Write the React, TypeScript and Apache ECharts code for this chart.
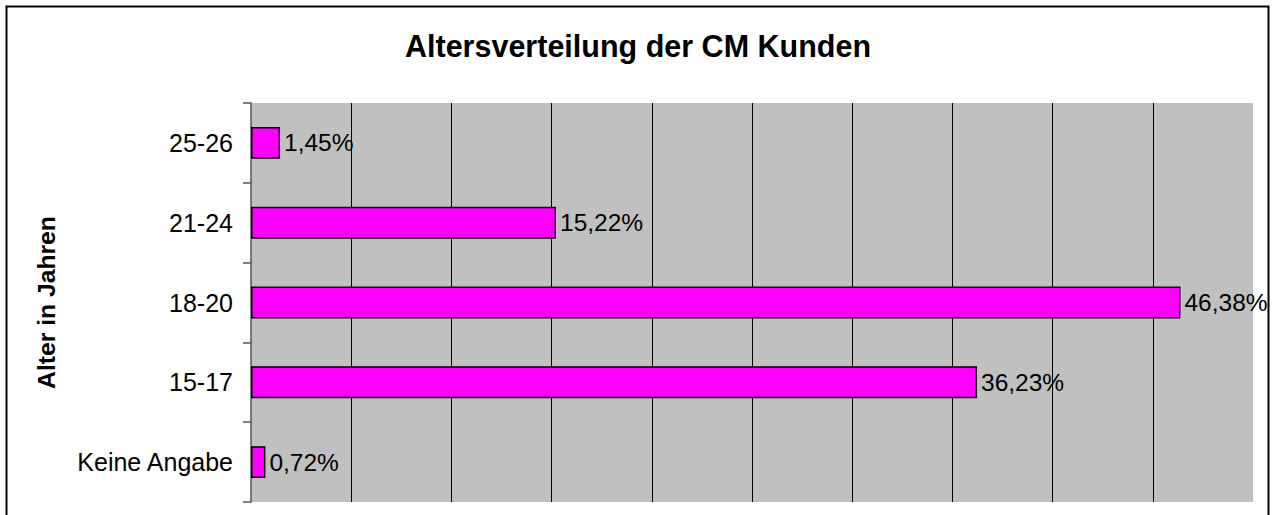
import React, { useEffect, useRef } from "react";
import * as echarts from "echarts";

const categories = ["Keine Angabe", "15-17", "18-20", "21-24", "25-26"];
const values = [0.72, 36.23, 46.38, 15.22, 1.45];
const titleText = "Altersverteilung der CM Kunden";
const yAxisTitle = "Alter in Jahren";

const FONT = "Liberation Sans, Arial, Helvetica, sans-serif";

export default function App() {
  const ref = useRef<HTMLDivElement>(null);
  useEffect(() => {
    document.body.style.margin = "0";
    const chart = echarts.init(ref.current!, null, { renderer: "svg" });
    chart.setOption({
      animation: false,
      backgroundColor: "#ffffff",
      title: {
        text: titleText,
        left: "center",
        top: 25,
        textStyle: { fontFamily: FONT, fontSize: 30.5, fontWeight: "bold", color: "#000" },
      },
      graphic: [
        {
          type: "rect",
          shape: { x: 6.5, y: 6.5, width: 1262, height: 530 },
          style: { fill: "none", stroke: "#000", lineWidth: 2 },
          silent: true,
          z: 100,
        },
      ],
      grid: {
        left: 251,
        right: 23,
        top: 103,
        bottom: 13,
        show: true,
        backgroundColor: "#C0C0C0",
        borderWidth: 0,
      },
      xAxis: {
        type: "value",
        min: 0,
        max: 50,
        interval: 5,
        axisLabel: { show: false },
        axisLine: { show: false },
        axisTick: { show: false },
        splitLine: {
          show: true,
          showMinLine: false,
          showMaxLine: false,
          lineStyle: { color: "#000", width: 1 },
        },
      },
      yAxis: {
        type: "category",
        data: categories,
        name: yAxisTitle,
        nameLocation: "middle",
        nameRotate: 90,
        nameGap: 192,
        nameTextStyle: { fontFamily: FONT, fontSize: 24.7, fontWeight: "bold", color: "#000" },
        axisLine: { show: true, lineStyle: { color: "#555", width: 1.5 } },
        axisTick: { show: true, inside: false, length: 8, lineStyle: { color: "#555", width: 1.5 } },
        axisLabel: { fontFamily: FONT, fontSize: 25, color: "#000", margin: 18 },
        splitLine: { show: false },
      },
      series: [
        {
          type: "bar",
          data: values,
          barWidth: "40%",
          itemStyle: { color: "#FF00FF", borderColor: "#000", borderWidth: 1.5 },
          label: {
            show: true,
            position: "right",
            distance: 4,
            fontFamily: FONT,
            fontSize: 24.5,
            color: "#000",
            formatter: (p: any) => p.value.toFixed(2).replace(".", ",") + "%",
          },
        },
      ],
    });
    return () => chart.dispose();
  }, []);
  return <div ref={ref} style={{ width: 1276, height: 515 }} />;
}
